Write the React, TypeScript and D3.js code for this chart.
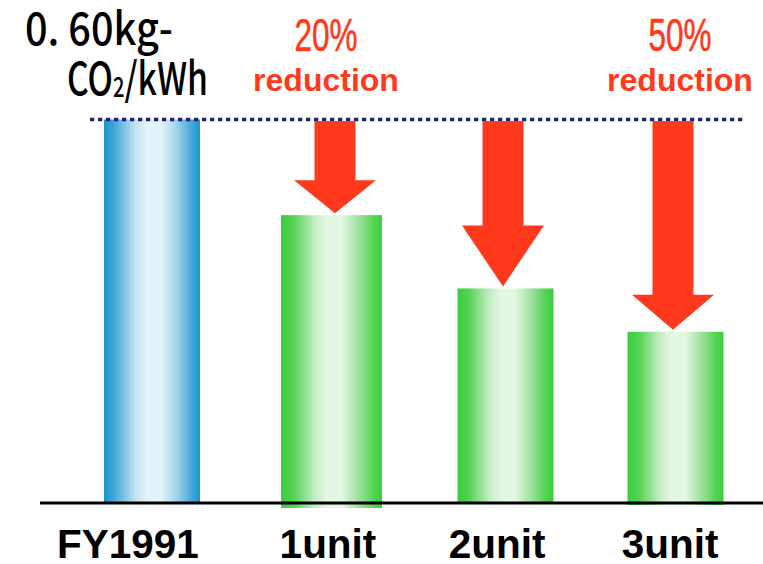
import React from 'react';
import * as d3 from 'd3';

// ---- data ----
const categories = ['FY1991', '1unit', '2unit', '3unit'];
const values = [0.6, 0.45, 0.335, 0.267];
const barKinds = ['base', 'new', 'new', 'new'];
const referenceValue = 0.6;
const arrowTargets = ['1unit', '2unit', '3unit'];
const reductionCats = ['1unit', '3unit'];
const reductionPct = ['20%', '50%'];
const reductionWord = 'reduction';
const unitLine1 = '0. 60kg-';
const unitLine2 = ['CO', '2', '/kWh'];

// ---- layout constants ----
const W = 763;
const H = 564;
const labelDx = [-24, -3.5, -8.5, -5.5];
const barDx = [0, 2.5, 4.5, 0];
const barDw = [0, 5, 0, 0];
const arrowDx = [3.5, -2.5, -2.5];
const arrowHeadH = [33, 61, 35];
const barBottomExtra = [0, 6, 0, 3];
const reductionDx = [-5.5, 4.5];
const RED = '#ff3a1c';

export default function App() {
  const x = d3.scaleBand<string>().domain(categories).range([104, 723.5]).paddingInner(0.45).paddingOuter(0);
  const y = d3.scaleLinear().domain([0, 0.6]).range([502, 119.5]);
  const bw = x.bandwidth();
  const cx = (c: string) => {
    const i = categories.indexOf(c);
    return (x(c) as number) + barDx[i] + (bw + barDw[i]) / 2;
  };

  const arrowPath = (c: string, i: number) => {
    const v = values[categories.indexOf(c)];
    const m = cx(c) + arrowDx[i];
    const top = y(referenceValue) + 1.5;
    const tip = y(v) - 2;
    const hb = tip - arrowHeadH[i];
    const p = d3.path();
    p.moveTo(m - 20.5, top);
    p.lineTo(m + 20.5, top);
    p.lineTo(m + 20.5, hb);
    p.lineTo(m + 41, hb);
    p.lineTo(m, tip);
    p.lineTo(m - 41, hb);
    p.lineTo(m - 20.5, hb);
    p.closePath();
    return p.toString();
  };

  const blueStops: [number, string][] = [
    [0, '#1994cf'], [0.1, '#3ea6d7'], [0.33, '#c4e4f1'], [0.45, '#e2f3f9'],
    [0.6, '#e2f3f9'], [0.75, '#a6d4e9'], [0.92, '#3ea6d7'], [1, '#1994cf'],
  ];
  const greenStops: [number, string][] = [
    [0, '#3dcd3d'], [0.12, '#52d352'], [0.33, '#c2edc2'], [0.45, '#e2f8e2'],
    [0.6, '#e2f8e2'], [0.75, '#a6e3a6'], [0.92, '#52d352'], [1, '#3dcd3d'],
  ];

  return (
    <svg width={W} height={H} style={{ position: 'absolute', left: 0, top: 0, background: '#fff' }}>
      <defs>
        <linearGradient id="gBase" x1="0" x2="1" y1="0" y2="0">
          {blueStops.map(([o, c], i) => <stop key={i} offset={o} stopColor={c} />)}
        </linearGradient>
        <linearGradient id="gNew" x1="0" x2="1" y1="0" y2="0">
          {greenStops.map(([o, c], i) => <stop key={i} offset={o} stopColor={c} />)}
        </linearGradient>
      </defs>

      {/* bars */}
      {categories.map((c, i) => (
        <rect
          key={c}
          x={(x(c) as number) + barDx[i]}
          y={y(values[i])}
          width={bw + barDw[i]}
          height={y(0) - y(values[i]) + barBottomExtra[i]}
          fill={barKinds[i] === 'base' ? 'url(#gBase)' : 'url(#gNew)'}
        />
      ))}

      {/* baseline */}
      <line x1={40} x2={W} y1={503} y2={503} stroke="#000" strokeWidth={3} />

      {/* reference dotted line */}
      <line
        x1={90}
        x2={743}
        y1={y(referenceValue)}
        y2={y(referenceValue)}
        stroke="#1b2478"
        strokeWidth={3.5}
        strokeDasharray="4.3 3.7"
      />

      {/* arrows */}
      {arrowTargets.map((c, i) => (
        <path key={c} d={arrowPath(c, i)} fill={RED} />
      ))}

      {/* reduction labels */}
      {reductionCats.map((c, i) => (
        <g key={c} fill={RED} textAnchor="middle" fontFamily="'Liberation Sans', Arial, sans-serif">
          <text
            x={cx(c) + reductionDx[i]}
            y={51}
            fontSize={47}
            textLength={63}
            lengthAdjust="spacingAndGlyphs"
            stroke={RED}
            strokeWidth={0.6}
          >
            {reductionPct[i]}
          </text>
          <text x={cx(c) + reductionDx[i]} y={91} fontSize={32} fontWeight="bold">
            {reductionWord}
          </text>
        </g>
      ))}

      {/* unit label */}
      <g fontFamily="'Noto Sans CJK JP', sans-serif" fill="#000" fontWeight={500}>
        <text x={25} y={45} fontSize={45} textLength={148} lengthAdjust="spacingAndGlyphs">
          {unitLine1}
        </text>
        <text x={67} y={95} fontSize={45} textLength={141} lengthAdjust="spacingAndGlyphs">
          {unitLine2[0]}
          <tspan fontSize={27} dy={2}>{unitLine2[1]}</tspan>
          <tspan fontSize={45} dy={-2}>{unitLine2[2]}</tspan>
        </text>
      </g>

      {/* category labels */}
      {categories.map((c, i) => (
        <text
          key={c}
          x={cx(c) + labelDx[i]}
          y={558}
          textAnchor="middle"
          fontFamily="'Liberation Sans', Arial, sans-serif"
          fontWeight="bold"
          fontSize={40.5}
          fill="#000"
        >
          {c}
        </text>
      ))}
    </svg>
  );
}
